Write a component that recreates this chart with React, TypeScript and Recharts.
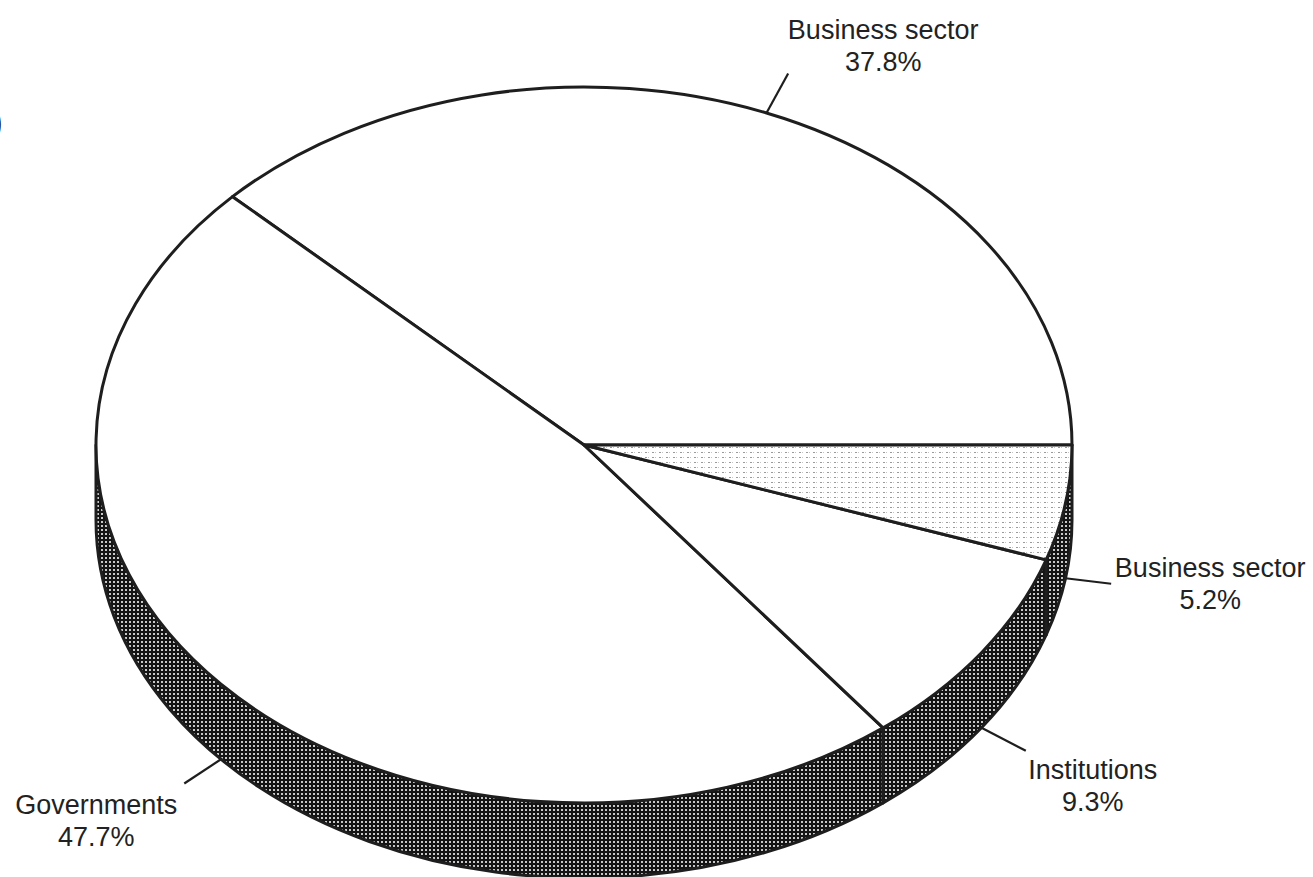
import { Pie, PieChart } from 'recharts';

const names = ['Business sector', 'Governments', 'Institutions', 'Business sector'];
const shares = [37.8, 47.7, 9.3, 5.2];

// label placement relative to the end of each leader line
const labelLayout = [
  { len: 45, dx: 95, dy: -35 },
  { len: 44, dx: -88, dy: 31 },
  { len: 50, dx: 67, dy: 28 },
  { len: 46, dx: 99, dy: -7 },
];
const topFills = ['#fff', '#fff', '#fff', 'url(#stipple)'];

const data = names.map((name, i) => ({ name, value: shares[i] }));

const RAD = Math.PI / 180;
const SQUASH = 0.7336;
const DEPTH = 75;
const INK = '#1e1e1e';

const pt = (cx: number, cy: number, rx: number, ry: number, deg: number) =>
  [cx + rx * Math.cos(deg * RAD), cy - ry * Math.sin(deg * RAD)];

function Slice(props: any) {
  const { cx, cy, outerRadius, startAngle, endAngle, index } = props;
  const rx = outerRadius;
  const ry = outerRadius * SQUASH;
  const a1 = Math.min(startAngle, endAngle);
  const a2 = Math.max(startAngle, endAngle);
  const [x1, y1] = pt(cx, cy, rx, ry, a1);
  const [x2, y2] = pt(cx, cy, rx, ry, a2);
  const large = a2 - a1 > 180 ? 1 : 0;
  const top = `M${cx},${cy} L${x1},${y1} A${rx},${ry} 0 ${large} 0 ${x2},${y2} Z`;

  let side = null;
  const s = Math.max(a1, 180);
  const e = Math.min(a2, 360);
  if (s < e) {
    const [sx, sy] = pt(cx, cy, rx, ry, s);
    const [ex, ey] = pt(cx, cy, rx, ry, e);
    const d = `M${sx},${sy} A${rx},${ry} 0 0 0 ${ex},${ey} L${ex},${ey + DEPTH} A${rx},${ry} 0 0 1 ${sx},${sy + DEPTH} Z`;
    side = <path d={d} fill="url(#sideHatch)" stroke={INK} strokeWidth={3} strokeLinejoin="round" />;
  }
  return (
    <g>
      {side}
      <path d={top} fill={topFills[index] ?? '#fff'} stroke={INK} strokeWidth={3} strokeLinejoin="round" />
    </g>
  );
}

function Label(props: any) {
  const { cx, cy, outerRadius, midAngle, index } = props;
  const rx = outerRadius;
  const ry = outerRadius * SQUASH;
  const cos = Math.cos(midAngle * RAD);
  const sin = Math.sin(midAngle * RAD);
  const sx = cx + rx * cos;
  const sy = cy - ry * sin + (sin < 0 ? DEPTH : 0);
  const nx = rx * cos;
  const ny = -ry * sin;
  const n = Math.hypot(nx, ny);
  const lay = labelLayout[index];
  const ex = sx + (nx / n) * lay.len;
  const ey = sy + (ny / n) * lay.len;
  const tx = ex + lay.dx;
  const ty = ey + lay.dy;
  return (
    <g>
      <line x1={sx} y1={sy} x2={ex} y2={ey} stroke={INK} strokeWidth={2.2} />
      <text
        x={tx}
        y={ty}
        textAnchor="middle"
        fontFamily="'Liberation Sans', Arial, sans-serif"
        fontSize={27}
        fill="#222"
      >
        <tspan x={tx}>{names[index]}</tspan>
        <tspan x={tx} dy={32}>{`${shares[index].toFixed(1)}%`}</tspan>
      </text>
    </g>
  );
}

export default function App() {
  return (
    <div style={{ position: 'absolute', left: 0, top: 0, width: 1313, height: 877, background: '#fff', overflow: 'hidden' }}>
      <svg width={0} height={0} style={{ position: 'absolute' }}>
        <defs>
          <pattern id="sideHatch" width={4} height={4} patternUnits="userSpaceOnUse">
            <rect width={4} height={4} fill="#141414" />
            <rect x={1} y={1} width={2} height={2} fill="#c8c8c8" />
          </pattern>
          <pattern id="stipple" width={7} height={5} patternUnits="userSpaceOnUse">
            <rect width={7} height={5} fill="#fff" />
            <rect x={1} y={2} width={2} height={1} fill="#9a9a9a" />
            <rect x={4} y={2} width={1} height={1} fill="#c4c4c4" />
          </pattern>
        </defs>
      </svg>
      <PieChart width={1313} height={877} margin={{ top: 0, right: 0, bottom: 0, left: 0 }}>
        <Pie
          data={data}
          dataKey="value"
          nameKey="name"
          cx={584}
          cy={445}
          outerRadius={488}
          startAngle={0}
          endAngle={360}
          shape={Slice}
          label={Label}
          labelLine={false}
          isAnimationActive={false}
        />
      </PieChart>
      <svg width={20} height={877} style={{ position: 'absolute', left: 0, top: 0 }}>
        <text x={-9} y={134} fontFamily="'Liberation Sans', Arial, sans-serif" fontSize={36} fill="#222">)</text>
      </svg>
    </div>
  );
}
